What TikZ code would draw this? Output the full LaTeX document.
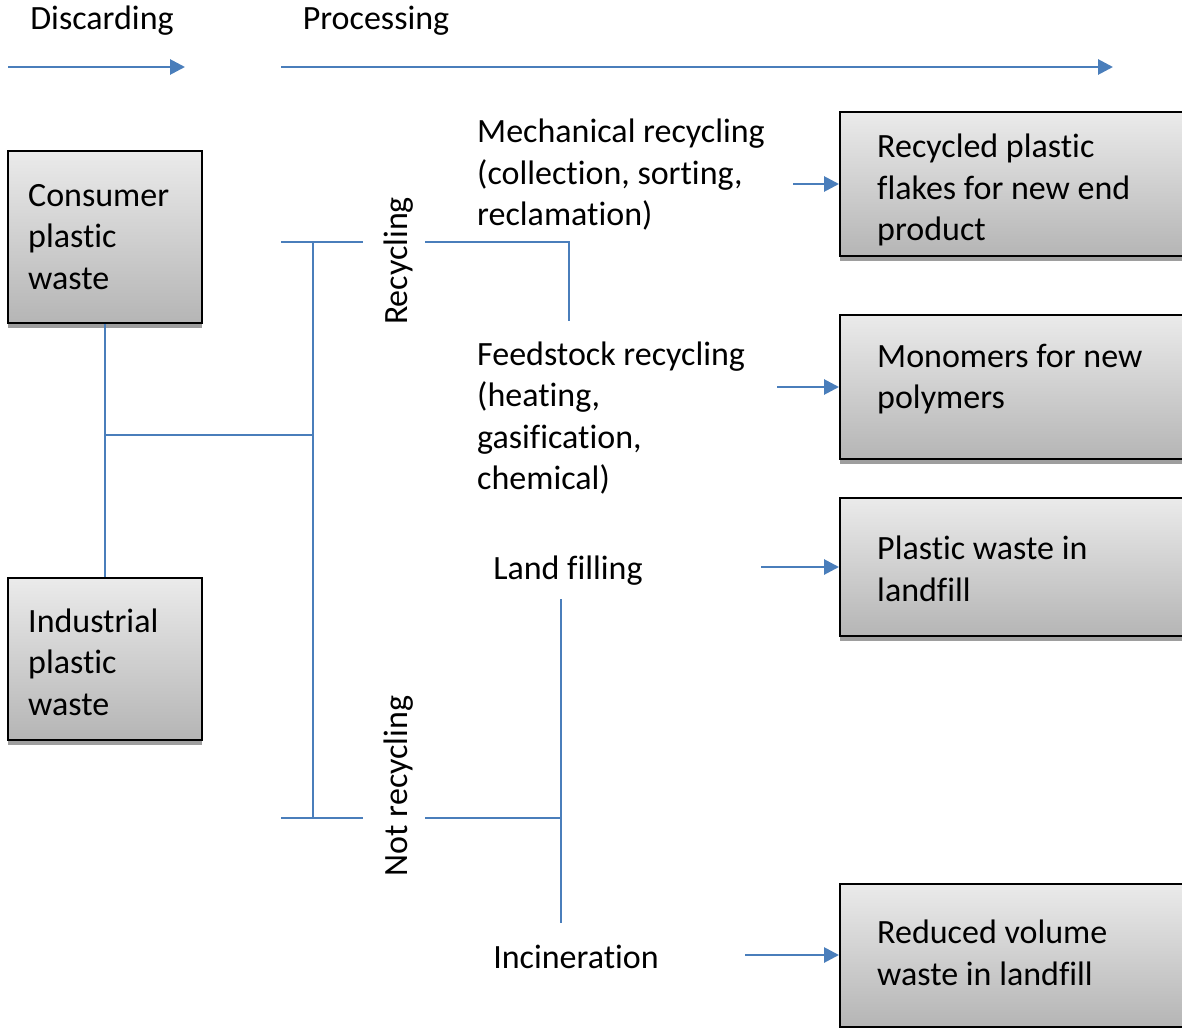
\documentclass[tikz,border=0pt]{standalone}
\usepackage{fontspec}
\setmainfont{Carlito}[Ligatures=NoCommon]
\usetikzlibrary{arrows.meta,shadows,calc}
\definecolor{conn}{HTML}{4A7EBB}
\tikzset{
  conline/.style={draw=conn, line width=2.8pt},
  conarrow/.style={conline, -{Triangle[length=15pt,width=15pt]}},
  boxnode/.style={draw=black, line width=2pt, rectangle, inner sep=0pt,
    top color=black!8, bottom color=black!29,
    drop shadow={shadow xshift=0pt, shadow yshift=-5pt, fill=black!38, opacity=1}},
  txt/.style={font=\fontsize{34}{41.5}\selectfont, inner sep=0pt, align=left, text=black},
}
\begin{document}
\begin{tikzpicture}[x=1pt,y=-1pt]
\useasboundingbox (0,0) rectangle (1182,1027);
\clip (0,0) rectangle (1182,1027);
\fill[white] (0,0) rectangle (1182,1027);

% header
\node[txt] (disc) at (102,21) {Discarding};
\node[txt] (proc) at (376,21) {Processing};
\coordinate (d1) at (8,67);
\coordinate (d2) at (185,67);
\coordinate (p1) at (281,67);
\coordinate (p2) at (1113,67);
\draw[conarrow] (d1) -- (d2);
\draw[conarrow] (p1) -- (p2);

% left boxes
\node[boxnode, minimum width=194pt, minimum height=172pt] (consumer) at (105,237) {};
\node[txt, anchor=west] (consumertxt) at (28,237) {Consumer\\plastic\\waste};
\node[boxnode, minimum width=194pt, minimum height=162pt] (industrial) at (105,659) {};
\node[txt, anchor=west] (industrialtxt) at (28,662) {Industrial\\plastic\\waste};

% right boxes
\node[boxnode, minimum width=360pt, minimum height=144pt] (out1) at (1020,184) {};
\node[txt, anchor=west] (out1txt) at (877,190) {Recycled plastic\\flakes for new end\\product};
\node[boxnode, minimum width=360pt, minimum height=144pt] (out2) at (1020,387) {};
\node[txt, anchor=west] (out2txt) at (877,379) {Monomers for new\\polymers};
\node[boxnode, minimum width=360pt, minimum height=138pt] (out3) at (1020,567) {};
\node[txt, anchor=west] (out3txt) at (877,569) {Plastic waste in\\landfill};
\node[boxnode, minimum width=360pt, minimum height=143pt] (out4) at (1020,955) {};
\node[txt, anchor=west] (out4txt) at (877,953) {Reduced volume\\waste in landfill};

% middle texts
\node[txt, anchor=west] (mech) at (477,175) {Mechanical recycling\\(collection, sorting,\\reclamation)};
\node[txt, anchor=west] (feed) at (477,418) {Feedstock recycling\\(heating,\\gasification,\\chemical)};
\node[txt] (land) at (568,571) {Land filling};
\node[txt] (incin) at (576,957) {Incineration};
\node[txt, rotate=90] (recyc) at (399,261) {Recycling};
\node[txt, rotate=90] (notrecyc) at (399,786) {Not recycling};

% connector coordinates
\coordinate (j1) at (105,435);
\coordinate (j2) at (313,435);
\coordinate (bt) at (313,242);
\coordinate (bb) at (313,818);
\coordinate (st1) at (281,242);
\coordinate (st2) at (363,242);
\coordinate (sb1) at (281,818);
\coordinate (sb2) at (363,818);
\coordinate (r1) at (425,242);
\coordinate (r2) at (569,242);
\coordinate (r3) at (569,321);
\coordinate (n1) at (425,818);
\coordinate (n2) at (561,818);
\coordinate (v1) at (561,599);
\coordinate (v2) at (561,923);
\coordinate (a1) at (793,184);
\coordinate (a2) at (777,387);
\coordinate (a3) at (761,567);
\coordinate (a4) at (745,955);

\draw[conline] (consumer.south) -- (industrial.north);
\draw[conline] (j1) -- (j2);
\draw[conline] (bt) -- (bb);
\draw[conline] (st1) -- (st2);
\draw[conline] (sb1) -- (sb2);
\draw[conline] (r1) -- (r2) -- (r3);
\draw[conline] (n1) -- (n2);
\draw[conline] (v1) -- (v2);
\draw[conarrow] (a1) -- (out1.west);
\draw[conarrow] (a2) -- (out2.west);
\draw[conarrow] (a3) -- (out3.west);
\draw[conarrow] (a4) -- (out4.west);
\end{tikzpicture}
\end{document}
